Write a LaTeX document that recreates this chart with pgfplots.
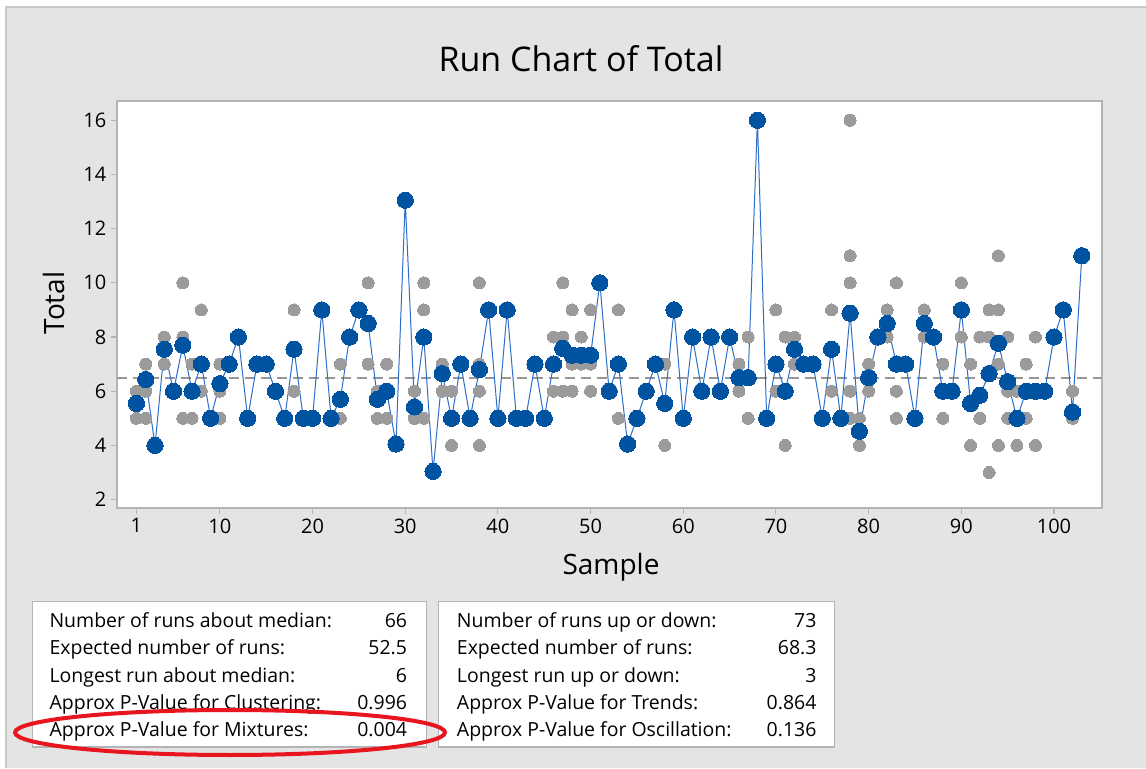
\documentclass[border=0pt]{standalone}
\usepackage{pgfplots}
\pgfplotsset{compat=1.18}
\usepackage{fontspec}
\setmainfont{Open Sans}
\definecolor{bgc}{RGB}{228,228,228}
\definecolor{bordc}{RGB}{200,200,200}
\definecolor{framec}{RGB}{180,180,180}
\definecolor{bluemk}{RGB}{0,83,160}
\definecolor{blueln}{RGB}{45,110,200}
\definecolor{greymk}{RGB}{155,155,155}
\definecolor{medc}{RGB}{150,150,150}
\definecolor{ellc}{RGB}{232,20,30}

\pgfplotstableread{
n v
1 5.55
2 6.43
3 4
4 7.55
5 6
6 7.7
7 6
8 7
9 5
10 6.28
11 7
12 8
13 5
14 7
15 7
16 6
17 5
18 7.55
19 5
20 5
21 9
22 5
23 5.7
24 8
25 9
26 8.5
27 5.7
28 6
29 4.05
30 13.05
31 5.42
32 8
33 3.04
34 6.65
35 5
36 7
37 5
38 6.8
39 9
40 5
41 9
42 5
43 5
44 7
45 5
46 7
47 7.58
48 7.33
49 7.33
50 7.33
51 10
52 6
53 7
54 4.05
55 5
56 6
57 7
58 5.55
59 9
60 5
61 8
62 6
63 8
64 6
65 8
66 6.5
67 6.5
68 16
69 5
70 7
71 6
72 7.55
73 7
74 7
75 5
76 7.55
77 5
78 8.88
79 4.52
80 6.5
81 8
82 8.5
83 7
84 7
85 5
86 8.5
87 8
88 6
89 6
90 9
91 5.55
92 5.85
93 6.65
94 7.77
95 6.35
96 5
97 6
98 6
99 6
100 8
101 9
102 5.23
103 11
}\meantable

\pgfplotstableread{
n v
1 6
1 5
2 7
2 6
2 5
4 8
4 7
6 10
6 8
6 5
7 7
7 5
8 9
8 6
10 7
10 6
10 5
18 9
18 6
23 7
23 5
26 10
26 7
27 6
27 5
28 7
28 5
31 6
31 5
32 10
32 9
32 5
34 7
34 6
35 6
35 4
38 10
38 7
38 6
38 4
46 8
46 6
47 10
47 8
47 6
48 9
48 7
48 6
49 8
49 7
50 9
50 7
50 6
53 9
53 5
58 7
58 4
66 7
66 6
67 8
67 5
70 9
70 6
71 8
71 4
72 8
72 7
76 9
76 6
78 16
78 11
78 10
78 6
78 5
79 5
79 4
80 7
80 6
82 9
82 8
83 10
83 6
83 5
86 9
86 8
88 7
88 5
90 10
90 8
91 7
91 4
92 8
92 5
93 9
93 8
93 3
94 11
94 9
94 7
94 4
95 8
95 6
95 5
96 6
96 4
97 7
97 5
98 8
98 4
102 6
102 5
}\obstable

\begin{document}
\begin{tikzpicture}[x=0.75pt,y=0.75pt]
\useasboundingbox (0,0) rectangle (1146,768);
\fill[white] (0,0) rectangle (1146,768);
\fill[bgc] (6,0) rectangle (1146,761);
\draw[bordc,line width=1pt] (6,0) -- (6,761) -- (1146,761);

\node[anchor=base,font=\fontsize{25.5}{30}\selectfont] at (581,696) {Run Chart of Total};
\node[rotate=90,font=\fontsize{21}{25}\selectfont] at (54,465) {Total};
\node[anchor=base,font=\fontsize{21}{25}\selectfont] at (611,193) {Sample};

\begin{axis}[
  at={(87.75pt,195pt)}, anchor=south west, scale only axis,
  width=738.75pt, height=305.25pt,
  xmin=-1.1, xmax=105.18, ymin=1.69, ymax=16.71,
  xtick={1,10,20,30,40,50,60,70,80,90,100},
  ytick={2,4,6,8,10,12,14,16},
  xtick pos=left, ytick pos=left,
  tick align=outside, major tick length=4.5pt,
  axis line style={draw=framec,line width=1.1pt},
  every tick/.style={draw=framec,line width=0.8pt},
  axis background/.style={fill=white},
  ticklabel style={font=\fontsize{15}{18}\selectfont},
  /pgf/number format/assume math mode=true,
]
\addplot[medc, line width=1.5pt, dash pattern=on 7.5pt off 4.5pt, forget plot] coordinates {(-1.1,6.5) (105.18,6.5)};
\addplot[greymk, only marks, mark=*, mark size=4.5pt, mark options={fill=greymk,draw=greymk,line width=0pt}] table[x=n,y=v] {\obstable};
\addplot[blueln, line width=0.75pt, mark=*, mark size=6.1pt, mark options={fill=bluemk,draw=bluemk,line width=0pt}] table[x=n,y=v] {\meantable};
\end{axis}

\begin{scope}[font=\fontsize{14.6}{17}\selectfont, every node/.style={inner sep=0pt}]
\draw[framec,fill=white,line width=0.8pt] (32.3,21) rectangle (426.7,166.3);
\draw[framec,fill=white,line width=0.8pt] (438.3,21) rectangle (834.3,166.3);
\node[anchor=base west] at (49.3,140.3) {Number of runs about median:};
\node[anchor=base west] at (49.3,113.1) {Expected number of runs:};
\node[anchor=base west] at (49.3,85.9) {Longest run about median:};
\node[anchor=base west] at (49.3,58.7) {Approx P-Value for Clustering:};
\node[anchor=base west] at (49.3,31.5) {Approx P-Value for Mixtures:};
\node[anchor=base east] at (407.3,140.3) {66};
\node[anchor=base east] at (407.3,113.1) {52.5};
\node[anchor=base east] at (407.3,85.9) {6};
\node[anchor=base east] at (407.3,58.7) {0.996};
\node[anchor=base east] at (407.3,31.5) {0.004};
\node[anchor=base west] at (456.7,140.3) {Number of runs up or down:};
\node[anchor=base west] at (456.7,113.1) {Expected number of runs:};
\node[anchor=base west] at (456.7,85.9) {Longest run up or down:};
\node[anchor=base west] at (456.7,58.7) {Approx P-Value for Trends:};
\node[anchor=base west] at (456.7,31.5) {Approx P-Value for Oscillation:};
\node[anchor=base east] at (816.7,140.3) {73};
\node[anchor=base east] at (816.7,113.1) {68.3};
\node[anchor=base east] at (816.7,85.9) {3};
\node[anchor=base east] at (816.7,58.7) {0.864};
\node[anchor=base east] at (816.7,31.5) {0.136};
\end{scope}
\draw[ellc,line width=3pt] (230,35.5) ellipse [x radius=215, y radius=22.5];
\end{tikzpicture}
\end{document}
